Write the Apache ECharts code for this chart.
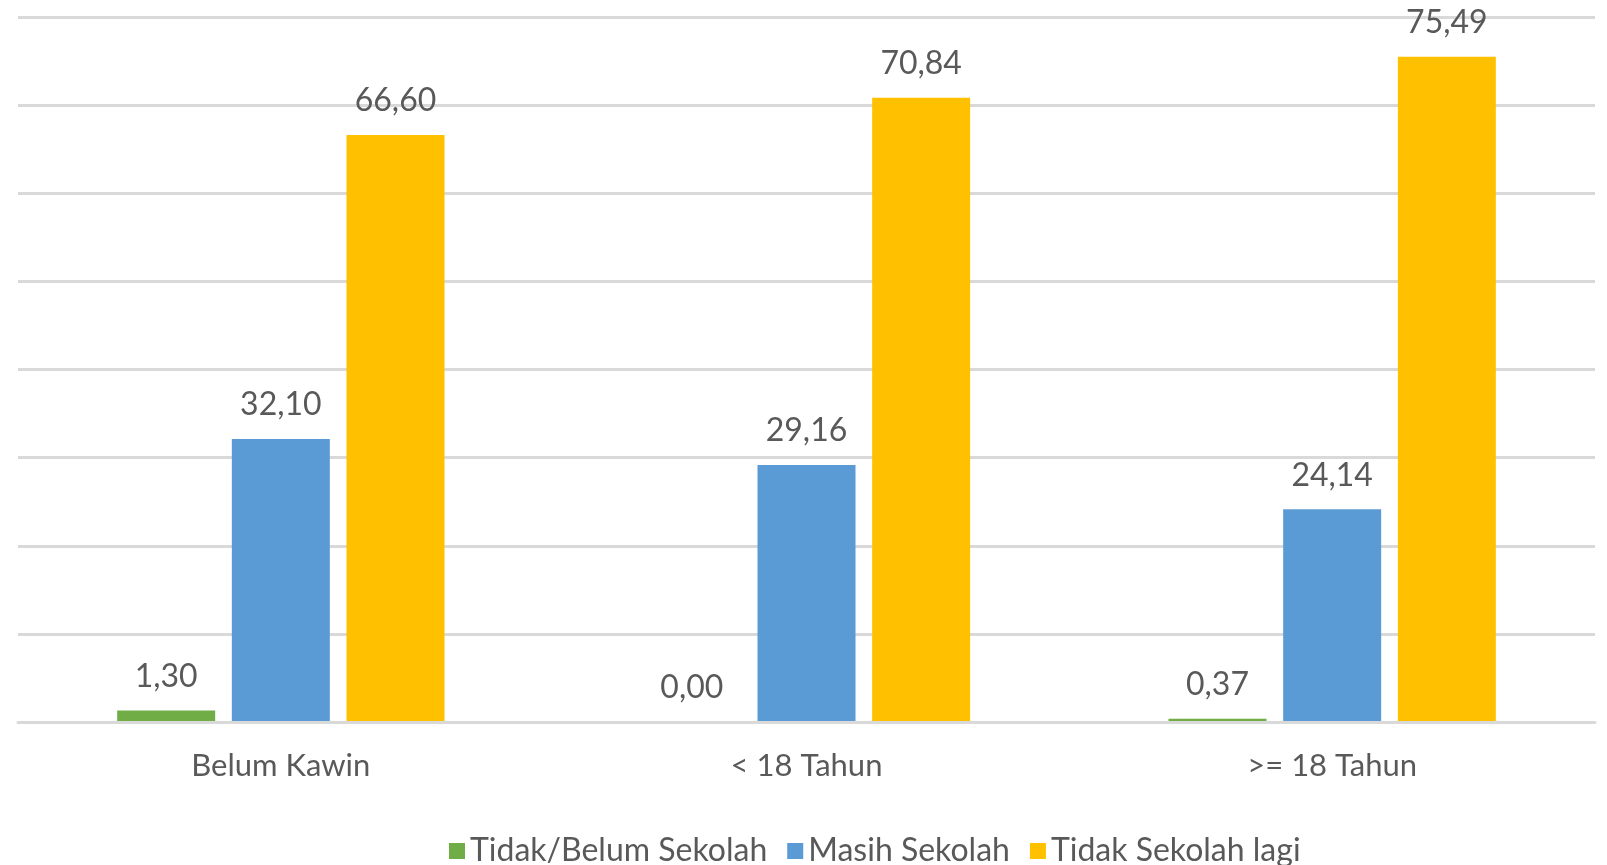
<!DOCTYPE html>
<html>
<head>
<meta charset="utf-8">
<script src="https://cdn.jsdelivr.net/npm/echarts@6/dist/echarts.min.js"></script>
<style>
  html, body { margin: 0; padding: 0; background: #fff; }
  #main { width: 1607px; height: 865px; }
</style>
</head>
<body>
<div id="main"></div>
<script>
// data
var categories = ['Belum Kawin', '< 18 Tahun', '>= 18 Tahun'];
var seriesNames = ['Tidak/Belum Sekolah', 'Masih Sekolah', 'Tidak Sekolah lagi'];
var tidakBelum = [1.30, 0.00, 0.37];
var masihSekolah = [32.10, 29.16, 24.14];
var tidakLagi = [66.60, 70.84, 75.49];

var colors = ['#70AD47', '#5B9BD5', '#FFC000'];
var textColor = '#595959';
var fontFamily = 'Lato, "Open Sans", sans-serif';

function fmt(p) {
    return p.value.toFixed(2).replace('.', ',');
}

function makeSeries(name, data, i) {
    return {
        name: name,
        type: 'bar',
        data: data,
        barWidth: 98,
        barGap: '17%',
        itemStyle: { color: colors[i] },
        label: {
            show: true,
            position: 'top',
            distance: 18,
            formatter: fmt,
            color: textColor,
            fontSize: 32,
            fontFamily: fontFamily
        }
    };
}

var myChart = echarts.init(document.getElementById('main'));
myChart.setOption({
    animation: false,
    color: colors,
    grid: { left: 18, right: 12, top: 17, bottom: 143, containLabel: false },
    legend: {
        left: 444,
        top: 830,
        itemWidth: 16,
        itemHeight: 16,
        itemGap: 20,
        icon: 'rect',
        data: seriesNames,
        textStyle: { color: textColor, fontSize: 32, fontFamily: fontFamily }
    },
    xAxis: {
        type: 'category',
        data: categories,
        z: 3, // baseline drawn over the tiny bars, like the original
        axisTick: { show: false },
        axisLine: { lineStyle: { color: '#d9d9d9', width: 3 } },
        axisLabel: { color: textColor, fontSize: 31, fontFamily: fontFamily, margin: 28 }
    },
    yAxis: {
        type: 'value',
        min: 0,
        max: 80,
        interval: 10,
        axisLabel: { show: false },
        axisLine: { show: false },
        axisTick: { show: false },
        splitLine: { lineStyle: { color: '#d9d9d9', width: 3 } }
    },
    series: [
        makeSeries(seriesNames[0], tidakBelum, 0),
        makeSeries(seriesNames[1], masihSekolah, 1),
        makeSeries(seriesNames[2], tidakLagi, 2)
    ]
});
</script>
</body>
</html>
